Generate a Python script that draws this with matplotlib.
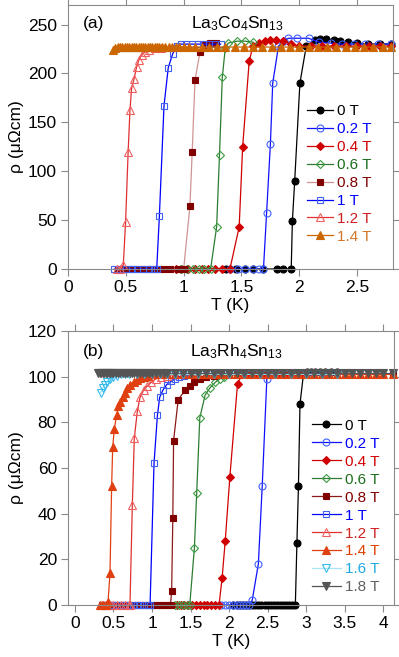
import matplotlib
matplotlib.use("Agg")
import matplotlib.pyplot as plt

plt.rcParams['font.family'] = ['Liberation Sans', 'DejaVu Sans']
plt.rcParams['mathtext.fontset'] = 'custom'
plt.rcParams['mathtext.rm'] = 'Liberation Sans'
plt.rcParams['mathtext.it'] = 'Liberation Sans'

# ---------------- Panel (a): La3Co4Sn13 ----------------
a_labels = ["0 T", "0.2 T", "0.4 T", "0.6 T", "0.8 T", "1 T", "1.2 T", "1.4 T"]

a_T0 = [1.37, 1.45, 1.53, 1.60, 1.69, 1.81, 1.86, 1.93, 1.94, 1.96, 2.005, 2.06, 2.135, 2.18, 2.23, 2.30, 2.35, 2.42, 2.50, 2.59, 2.70, 2.79]
a_R0 = [0, 0, 0, 0, 0, 0, 0, 0, 49, 90, 190, 228, 234, 235, 235, 234, 233, 232, 231, 230, 230, 230]

a_T02 = [1.40, 1.47, 1.53, 1.60, 1.65, 1.69, 1.717, 1.75, 1.77, 1.82, 1.87, 1.905, 1.98, 2.08, 2.17, 2.27, 2.37, 2.47, 2.57, 2.68, 2.79]
a_R02 = [0, 0, 0, 0, 0, 0, 57, 128, 190, 228, 233, 236, 236, 236, 232, 231, 230, 230, 230, 230, 230]

a_T04 = [0.93, 0.98, 1.04, 1.10, 1.16, 1.21, 1.27, 1.33, 1.40, 1.48, 1.51, 1.567, 1.60, 1.65, 1.70, 1.75, 1.80, 1.86, 1.93, 2.00, 2.10, 2.20, 2.30, 2.40, 2.50, 2.60, 2.70, 2.79]
a_R04 = [0, 0, 0, 0, 0, 0, 0, 0, 0, 43, 125, 213, 228, 231, 233, 234, 234, 233, 230, 228, 228, 228, 228, 228, 228, 228, 228, 228]

a_T06 = [0.98, 1.03, 1.08, 1.13, 1.18, 1.233, 1.285, 1.31, 1.334, 1.36, 1.385, 1.46, 1.53, 1.60]
a_R06 = [0, 0, 0, 0, 0, 0, 43, 117, 196, 226, 231, 233, 233, 232]

a_T08 = [0.43, 0.48, 0.53, 0.58, 0.63, 0.68, 0.73, 0.78, 0.83, 0.88, 0.95, 1.00, 1.054, 1.074, 1.098, 1.141, 1.18, 1.227, 1.28]
a_R08 = [0, 0, 0, 0, 0, 0, 0, 0, 0, 0, 0, 0, 64, 120, 193, 222, 229, 231, 231]

a_T1 = [0.40, 0.45, 0.50, 0.55, 0.60, 0.65, 0.70, 0.74, 0.767, 0.79, 0.83, 0.867, 0.905, 0.94, 0.98, 1.02, 1.07, 1.12, 1.17, 1.22, 1.27, 1.32]
a_R1 = [0, 0, 0, 0, 0, 0, 0, 0, 0, 54, 167, 206, 220, 228, 230, 230, 230, 230, 230, 230, 230, 230]

a_T12 = [0.42, 0.45, 0.478, 0.498, 0.52, 0.536, 0.55, 0.57, 0.594, 0.614, 0.636, 0.665, 0.70, 0.75, 0.80]
a_R12 = [0, 0, 4, 48, 120, 163, 185, 194, 207, 214, 219, 222, 224, 226, 226]

a_T14 = [0.39, 0.41, 0.43, 0.45, 0.47, 0.49, 0.51, 0.53, 0.55, 0.57, 0.59, 0.61, 0.63, 0.65, 0.67, 0.69, 0.71, 0.73, 0.75, 0.77, 0.79, 0.81, 0.84, 0.87, 0.90, 0.93, 0.96, 1.00, 1.05, 1.10, 1.16, 1.22, 1.29, 1.36, 1.44, 1.52, 1.60, 1.68, 1.76, 1.84, 1.92, 2.00, 2.08, 2.16, 2.24, 2.32, 2.40, 2.48, 2.56, 2.64, 2.72, 2.79]
a_R14 = [224, 226, 227, 227, 227, 227, 227, 227, 227, 227, 227, 227, 227, 227, 227, 227, 227, 227, 227, 227, 227, 227, 227, 227, 227, 227, 227, 227, 227, 227, 227, 227, 227, 227, 227, 227, 227, 227, 227, 227, 227, 227, 227, 227, 227, 227, 227, 227, 227, 227, 227, 227]

a_xticks = [0, 0.5, 1, 1.5, 2, 2.5]
a_xticklabels = ["0", "0.5", "1", "1.5", "2", "2.5"]
a_yticks = [0, 50, 100, 150, 200, 250]

# ---------------- Panel (b): La3Rh4Sn13 ----------------
b_labels = ["0 T", "0.2 T", "0.4 T", "0.6 T", "0.8 T", "1 T", "1.2 T", "1.4 T", "1.6 T", "1.8 T"]

b_T0 = [2.05, 2.10, 2.14, 2.18, 2.22, 2.26, 2.30, 2.34, 2.38, 2.42, 2.46, 2.50, 2.54, 2.58, 2.62, 2.66, 2.70, 2.74, 2.78, 2.82, 2.86, 2.88, 2.90, 2.92, 2.965, 3.01, 3.06, 3.12, 3.18, 3.25, 3.32, 3.40]
b_R0 = [0, 0, 0, 0, 0, 0, 0, 0, 0, 0, 0, 0, 0, 0, 0, 0, 0, 0, 0, 0, 0, 27, 52, 88, 101, 102, 102, 102, 102, 102, 102, 102]

b_T02 = [1.90, 1.95, 2.00, 2.05, 2.10, 2.14, 2.18, 2.22, 2.26, 2.30, 2.38, 2.43, 2.49, 2.54, 2.60, 2.70, 2.80, 2.90, 3.00, 3.10, 3.20, 3.30]
b_R02 = [0, 0, 0, 0, 0, 0, 0, 0, 0, 2, 18, 52, 99, 101, 101, 101, 101, 101, 101, 101, 101, 101]

b_T04 = [1.32, 1.37, 1.42, 1.47, 1.52, 1.57, 1.62, 1.67, 1.72, 1.77, 1.82, 1.87, 1.91, 1.95, 2.01, 2.11, 2.17, 2.25, 2.35, 2.45, 2.55, 2.65, 2.75, 2.85, 2.95]
b_R04 = [0, 0, 0, 0, 0, 0, 0, 0, 0, 0, 0, 0, 12, 28, 56, 97, 101, 101, 101, 101, 101, 101, 101, 101, 101]

b_T06 = [1.30, 1.35, 1.40, 1.45, 1.49, 1.55, 1.58, 1.62, 1.69, 1.75, 1.82, 1.88, 1.94, 2.00, 2.10]
b_R06 = [0, 0, 0, 0, 0, 25, 49, 82, 92, 95, 97.5, 99, 100, 101, 101]

b_T08 = [0.35, 0.40, 0.45, 0.50, 0.55, 0.60, 0.65, 0.70, 0.75, 0.80, 0.85, 0.90, 0.95, 1.00, 1.05, 1.10, 1.15, 1.20, 1.24, 1.255, 1.27, 1.28, 1.34, 1.43, 1.49, 1.55, 1.62, 1.70, 1.80, 1.90, 2.00, 2.10, 4.13]
b_R08 = [0, 0, 0, 0, 0, 0, 0, 0, 0, 0, 0, 0, 0, 0, 0, 0, 0, 0, 0, 6, 38, 72, 90, 94, 96, 97.5, 99, 100, 100.5, 101, 101, 101, 101]

b_T1 = [0.35, 0.40, 0.45, 0.50, 0.55, 0.60, 0.65, 0.70, 0.75, 0.80, 0.85, 0.90, 0.95, 0.975, 1.026, 1.07, 1.10, 1.14, 1.19, 1.25, 1.30, 1.35, 1.42, 1.50]
b_R1 = [0, 0, 0, 0, 0, 0, 0, 0, 0, 0, 0, 0, 0, 0, 62, 83, 91, 94, 96.5, 98, 99, 100, 100.5, 101]

b_T12 = [0.35, 0.40, 0.45, 0.50, 0.55, 0.60, 0.65, 0.70, 0.714, 0.745, 0.77, 0.81, 0.845, 0.89, 0.94, 0.99, 1.05, 1.12, 1.20, 1.30]
b_R12 = [0, 0, 0, 0, 0, 0, 0, 0, 0, 44, 73, 85, 91, 94, 96, 97.5, 99, 100, 100.5, 101]

b_T14 = [0.33, 0.36, 0.40, 0.43, 0.455, 0.476, 0.49, 0.51, 0.54, 0.563, 0.59, 0.627, 0.65, 0.68, 0.72, 0.76, 0.80, 0.85, 0.90, 0.95, 1.00, 1.10, 1.20, 1.30, 1.40, 1.50, 1.60, 1.70, 1.80, 1.90, 2.00, 2.10, 2.20, 2.30, 2.40, 2.50, 2.60, 2.70, 2.80, 2.90, 3.00, 3.10, 3.20, 3.30, 3.40, 3.50, 3.60, 3.70, 3.80, 3.90, 4.00, 4.13]
b_R14 = [0, 0, 0, 1.5, 14, 52, 69, 77, 83, 87, 89, 91, 93, 95, 96.5, 97.5, 98.5, 99.3, 100, 100.5, 101, 101, 101, 101, 101, 101, 101, 101, 101, 101, 101, 101, 101, 101, 101, 101, 101, 101, 101, 101, 101, 101, 101, 101, 101, 101, 101, 101, 101, 101, 101, 101]

b_T16 = [0.333, 0.36, 0.39, 0.42, 0.45, 0.50, 0.55, 0.60, 0.65, 0.70, 0.80, 0.90, 1.00, 1.10, 1.20, 1.30, 1.40, 1.60, 1.80, 2.00, 2.20, 2.40, 2.60, 2.80, 3.00, 3.20, 3.40]
b_R16 = [93, 95, 96.5, 97.8, 99, 100, 100.5, 101, 101, 101, 101, 101, 101, 101, 101, 101, 101, 101, 101, 101, 101, 101, 101, 101, 101, 101, 101]

b_T18 = [0.30, 0.32, 0.34, 0.36, 0.38, 0.40, 0.42, 0.44, 0.46, 0.48, 0.50, 0.53, 0.56, 0.59, 0.62, 0.65, 0.68, 0.71, 0.74, 0.77, 0.80, 0.84, 0.88, 0.92, 0.96, 1.00, 1.05, 1.10, 1.15, 1.20, 1.30, 1.40, 1.50, 1.60, 1.70, 1.80, 1.90, 2.00, 2.10, 2.20, 2.30, 2.40, 2.50, 2.60, 2.70, 2.80, 2.90, 3.00, 3.10, 3.20, 3.30, 3.40, 3.50, 3.60, 3.70, 3.80, 3.90, 4.00, 4.13]
b_R18 = [101.8] * 59

b_xticks = [0, 0.5, 1, 1.5, 2, 2.5, 3, 3.5, 4]
b_xticklabels = ["0", "0.5", "1", "1.5", "2", "2.5", "3", "3.5", "4"]
b_yticks = [0, 20, 40, 60, 80, 100, 120]

# ---------------- styles ----------------
a_series = [
    (a_T0, a_R0, dict(marker='o', color='black', mfc='black', mec='black', ms=5), 'black'),
    (a_T02, a_R02, dict(marker='o', color='#1010FF', mfc='none', mec='#4060FF', ms=5), '#0000FF'),
    (a_T04, a_R04, dict(marker='D', color='#D00000', mfc='#D00000', mec='#D00000', ms=4.5), '#D00000'),
    (a_T06, a_R06, dict(marker='D', color='#2E7D32', mfc='none', mec='#3A9A40', ms=4.5), '#1B6E1B'),
    (a_T08, a_R08, dict(marker='s', color='#D09494', mfc='#800000', mec='#800000', ms=5), '#800000'),
    (a_T1, a_R1, dict(marker='s', color='#0000FF', mfc='none', mec='#4060F0', ms=5), '#0000FF'),
    (a_T12, a_R12, dict(marker='^', color='#E03030', mfc='none', mec='#F06060', ms=5.5), '#D02020'),
    (a_T14, a_R14, dict(marker='^', color='#CC6600', mfc='#CC6600', mec='#CC6600', ms=5.5), '#D2772A'),
]

b_series = [
    (b_T0, b_R0, dict(marker='o', color='black', mfc='black', mec='black', ms=5), 'black'),
    (b_T02, b_R02, dict(marker='o', color='#1010FF', mfc='none', mec='#4060FF', ms=5), '#0000FF'),
    (b_T04, b_R04, dict(marker='D', color='#D00000', mfc='#D00000', mec='#D00000', ms=4.5), '#D00000'),
    (b_T06, b_R06, dict(marker='D', color='#2E7D32', mfc='none', mec='#3A9A40', ms=4.5), '#1B6E1B'),
    (b_T08, b_R08, dict(marker='s', color='#8B1A1A', mfc='#800000', mec='#800000', ms=5), '#800000'),
    (b_T1, b_R1, dict(marker='s', color='#0000FF', mfc='none', mec='#4060F0', ms=5), '#0000FF'),
    (b_T12, b_R12, dict(marker='^', color='#E03030', mfc='none', mec='#F06060', ms=5.5), '#D02020'),
    (b_T14, b_R14, dict(marker='^', color='#E04010', mfc='#E04010', mec='#E04010', ms=5.5), '#E04000'),
    (b_T16, b_R16, dict(marker='v', color='#A8E4F4', mfc='none', mec='#33BBEE', ms=5.5), '#1EA8E0'),
    (b_T18, b_R18, dict(marker='v', color='#555555', mfc='#555555', mec='#555555', ms=5.5), '#606060'),
]

fig = plt.figure(figsize=(3.99, 6.57), dpi=100)
W, H = 399, 657

def px_axes(x0, x1, ytop, ybot):
    return fig.add_axes([x0 / W, 1 - ybot / H, (x1 - x0) / W, (ybot - ytop) / H])

axA = px_axes(68, 393, 5, 269)
axB = px_axes(68, 394, 331, 605)

def style(ax):
    for s in ax.spines.values():
        s.set_color('#8a8a8a')
        s.set_linewidth(0.8)
    ax.tick_params(direction='out', top=True, right=True, labeltop=False, labelright=False,
                   length=5, width=0.8, color='#8a8a8a', labelsize=12.5, pad=3, labelcolor='black')

def draw(ax, series, labels):
    handles = []
    for (T, R, kw, tc), lab in zip(series, labels):
        h, = ax.plot(T, R, linestyle='-', linewidth=0.9, markeredgewidth=0.8,
                     clip_on=False, label=lab, **kw)
        handles.append(h)
    return handles

hA = draw(axA, a_series, a_labels)
axA.set_xlim(0, 2.81)
axA.set_ylim(0, 270)
axA.set_xticks(a_xticks)
axA.set_xticklabels(a_xticklabels)
axA.set_yticks(a_yticks)
style(axA)
axA.set_xlabel("T (K)", fontsize=12.5, labelpad=2)
axA.set_ylabel("ρ (μΩcm)", fontsize=12.5, labelpad=3)
axA.text(0.045, 0.93, "(a)", transform=axA.transAxes, fontsize=12.5, ha='left', va='center')
axA.text(0.52, 0.93, r"La$_3$Co$_4$Sn$_{13}$", transform=axA.transAxes, fontsize=12.5, ha='center', va='center')
legA = axA.legend(handles=hA, loc='upper left', bbox_to_anchor=(0.735, 0.625), frameon=False,
                  fontsize=11, handlelength=1.7, handletextpad=0.25, labelspacing=0.26,
                  borderpad=0, borderaxespad=0)
for t, s in zip(legA.get_texts(), a_series):
    t.set_color(s[3])

hB = draw(axB, b_series, b_labels)
axB.set_xlim(-0.09, 4.14)
axB.set_ylim(0, 120)
axB.set_xticks(b_xticks)
axB.set_xticklabels(b_xticklabels)
axB.set_yticks(b_yticks)
style(axB)
axB.set_xlabel("T (K)", fontsize=12.5, labelpad=2)
axB.set_ylabel("ρ (μΩcm)", fontsize=12.5, labelpad=3)
axB.text(0.045, 0.925, "(b)", transform=axB.transAxes, fontsize=12.5, ha='left', va='center')
axB.text(0.515, 0.925, r"La$_3$Rh$_4$Sn$_{13}$", transform=axB.transAxes, fontsize=12.5, ha='center', va='center')
legB = axB.legend(handles=hB, loc='upper left', bbox_to_anchor=(0.748, 0.68), frameon=False,
                  fontsize=11, handlelength=1.9, handletextpad=0.25, labelspacing=0.26,
                  borderpad=0, borderaxespad=0)
for t, s in zip(legB.get_texts(), b_series):
    t.set_color(s[3])

fig.savefig("out.png", dpi=100)
